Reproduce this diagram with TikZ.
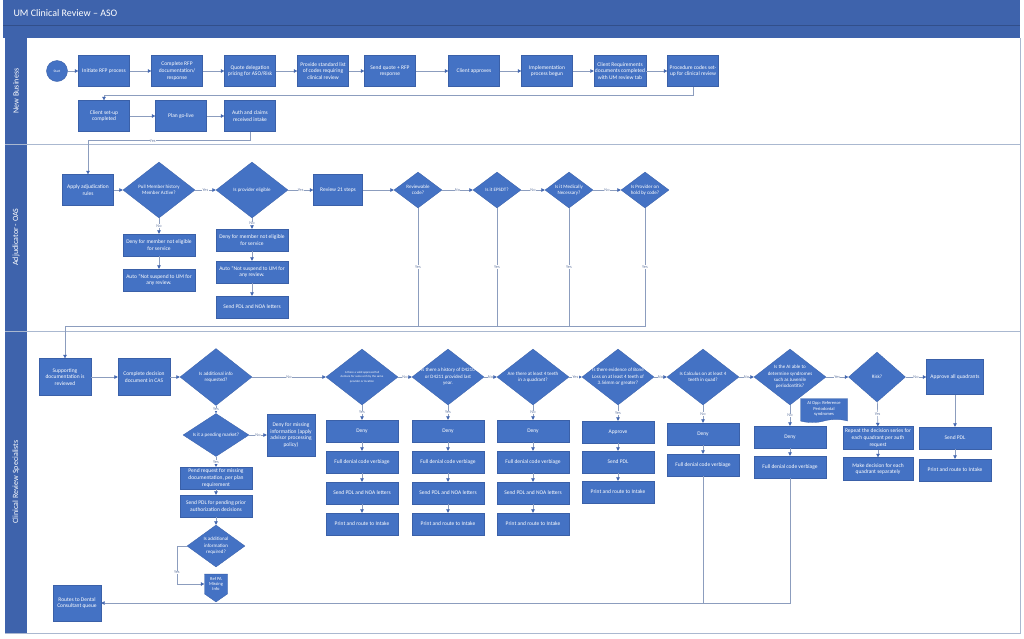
\documentclass[tikz,border=0pt]{standalone}
\usepackage{fontspec}
\setmainfont{Carlito}
\usetikzlibrary{shapes.geometric,shapes.symbols,arrows.meta}
\definecolor{hdrblue}{RGB}{62,99,172}
\definecolor{boxblue}{RGB}{68,114,196}
\definecolor{boxedge}{RGB}{58,96,168}
\definecolor{linegray}{RGB}{140,157,190}
\definecolor{tipblue}{RGB}{68,104,176}
\definecolor{lanegray}{RGB}{170,184,208}
\definecolor{lbltext}{RGB}{105,125,165}
\begin{document}
\begin{tikzpicture}[x=1pt,y=-1pt,
  box/.style={draw=boxedge,line width=.3pt,fill=boxblue,text=white,align=center,font=\fontsize{5.5}{6.6}\selectfont,inner sep=1pt,minimum width=51pt,minimum height=31pt},
  wide/.style={box,minimum width=72pt,minimum height=22pt},
  ask/.style={diamond,draw=boxedge,line width=.3pt,fill=boxblue,text=white,align=center,font=\fontsize{5}{6.4}\selectfont,inner xsep=-8pt,inner ysep=-4pt,minimum width=72pt,minimum height=56pt},
  small ask/.style={ask,minimum width=48pt,minimum height=36pt},
  conn/.style={draw=linegray,line width=.6pt,-{Triangle[length=3.5pt,width=3.5pt,color=tipblue]}},
  wire/.style={draw=linegray,line width=.6pt},
  lbl/.style={fill=white,text=lbltext,inner sep=.4pt,font=\fontsize{4.3}{4.3}\selectfont},
  lane/.style={draw=lanegray,line width=1pt},
  lanename/.style={rotate=90,text=white,font=\fontsize{8}{8}\selectfont}]
  \useasboundingbox (0,0) rectangle (1024,638);
  \fill[hdrblue] (3,0) rectangle (1020,38);
  \draw[hdrblue!80!black,line width=.4pt] (3,25) -- (1020,25);
  \fill[hdrblue] (5,38) rectangle (27,633);
  \draw[lane] (5,144) -- (1020,144);
  \draw[lane] (5,331) -- (1020,331);
  \draw[lane] (5,633) -- (1020,633) -- (1020,38);
  \node[anchor=west,text=white,font=\fontsize{10}{10}\selectfont] (title) at (10,13) {UM Clinical Review – ASO};
  \node[lanename] (nblane) at (16,91) {New Business};
  \node[lanename] (oaslane) at (16,237) {Adjudicator - OAS};
  \node[lanename] (crslane) at (16,482) {Clinical Review Specialists};

  \node[circle,draw=boxedge,fill=boxblue,text=white,minimum size=21pt,inner sep=0pt,font=\fontsize{3.5}{3.5}\selectfont] (start) at (57,71) {Start};
  \node[box] (rfp) at (104,71) {Initiate RFP process};
  \node[box] (rfpdoc) at (177,71) {Complete RFP\\documentation/\\response};
  \node[box] (quote) at (250,71) {Quote delegation\\pricing for ASO/Risk};
  \node[box] (codes) at (323,71) {Provide standard list\\of codes requiring\\clinical review};
  \node[box] (sendquote) at (390,71) {Send quote + RFP\\response};
  \node[box] (approves) at (474,71) {Client approves};
  \node[box] (impl) at (547,71) {Implementation\\process begun};
  \node[box] (reqs) at (620,71) {Client Requirements\\documents completed\\with UM review tab};
  \node[box] (proccodes) at (693,71) {Procedure codes set-\\up for clinical review};
  \node[box] (setup) at (104,116) {Client set-up\\completed};
  \node[box] (golive) at (181,116) {Plan go-live};
  \node[box] (intake) at (250,116) {Auth and claims\\received intake};

  \draw[conn] (start) -- (rfp);
  \draw[conn] (rfp) -- (rfpdoc);
  \draw[conn] (rfpdoc) -- (quote);
  \draw[conn] (quote) -- (codes);
  \draw[conn] (codes) -- (sendquote);
  \draw[conn] (sendquote) -- (approves);
  \draw[conn] (approves) -- (impl);
  \draw[conn] (impl) -- (reqs);
  \draw[conn] (reqs) -- (proccodes);
  \draw[conn] (proccodes.south) -- ++(0,9) -| (setup.north);
  \draw[conn] (setup) -- (golive);
  \draw[conn] (golive) -- (intake);

  \node[box] (adjrules) at (88,190) {Apply adjudication\\rules};
  \node[ask] (active) at (159,190) {Pull Member history\\Member Active?};
  \node[ask] (eligible) at (252,190) {Is provider eligible};
  \node[box,minimum width=49pt] (steps) at (338,190) {Review 21 steps};
  \node[small ask] (reviewable) at (418,190) {Reviewable\\code?};
  \node[small ask] (epsdt) at (497,190) {Is it EPSDT?};
  \node[small ask] (necessary) at (569,190) {Is it Medically\\Necessary?};
  \node[small ask] (onhold) at (645,190) {Is Provider on\\hold by code?};
  \node[wide] (denymem) at (159,245) {Deny for member not eligible\\for service};
  \node[wide] (automem) at (159,280) {Auto “Not suspend to UM for\\any review.};
  \node[wide] (denyprov) at (252,240) {Deny for member not eligible\\for service};
  \node[wide] (autoprov) at (252,272) {Auto “Not suspend to UM for\\any review.};
  \node[wide] (letters) at (252,307) {Send PDL and NOA letters};

  \draw[conn] (intake.south) -- ++(0,9) -| node[lbl,pos=.3] {Yes} (adjrules.north);
  \draw[conn] (adjrules) -- (active);
  \draw[conn] (active) -- node[lbl] {Yes} (eligible);
  \draw[conn] (eligible) -- node[lbl] {Yes} (steps);
  \draw[conn] (steps) -- (reviewable);
  \draw[conn] (reviewable) -- node[lbl] {No} (epsdt);
  \draw[conn] (epsdt) -- node[lbl] {No} (necessary);
  \draw[conn] (necessary) -- node[lbl] {No} (onhold);
  \draw[conn] (active) -- node[lbl] {No} (denymem);
  \draw[conn] (denymem) -- (automem);
  \draw[conn] (eligible) -- node[lbl] {No} (denyprov);
  \draw[conn] (denyprov) -- (autoprov);
  \draw[conn] (autoprov) -- (letters);

  \node[box,minimum width=52pt,minimum height=37pt] (support) at (65,377) {Supporting\\documentation is\\reviewed};
  \node[box,minimum width=52pt,minimum height=37pt] (casdoc) at (144,377) {Complete decision\\document in CAS};
  \node[ask,minimum height=57pt] (addinfo) at (216,377) {Is additional info\\requested?};
  \node[ask,minimum width=66pt,minimum height=43pt] (pendmkt) at (216,435) {Is it a pending market?};
  \node[box,minimum width=48pt,minimum height=42pt] (denymiss) at (291,435) {Deny for missing\\information (apply\\advisor processing\\policy)};
  \node[wide] (pendreq) at (216,478) {Pend request for missing\\documentation, per plan\\requirement};
  \node[wide] (pdlpend) at (216,506) {Send PDL for pending prior\\authorization decisions};
  \node[ask,minimum width=58pt,minimum height=42pt] (addreq) at (216,546) {Is additional\\information\\required?};
  \node[signal,signal to=south,signal from=nowhere,signal pointer angle=110,draw=boxedge,line width=.3pt,fill=boxblue,text=white,align=center,font=\fontsize{4.5}{5.4}\selectfont,inner sep=.5pt,minimum width=23pt,minimum height=25pt] (refpa) at (216,584) {Ref PA\\Missing\\Info};
  \node[box,minimum width=48pt,minimum height=36pt] (dental) at (77,603) {Routes to Dental\\Consultant queue};

  \node[ask,font=\fontsize{3}{4.2}\selectfont] (denture) at (362,377) {Is there a valid approved full\\denture for same arch by the same\\provider or location};
  \node[ask] (history) at (448,377) {Is there a history of D4210\\or D4211 provided last\\year.};
  \node[ask] (fourteeth) at (533,377) {Are there at least 4 teeth\\in a quadrant?};
  \node[ask] (boneloss) at (618,377) {Is there evidence of Bone\\Loss on at least 4 teeth of\\3.56mm or greater?};
  \node[ask] (calculus) at (703,377) {Is Calculus on at least 4\\teeth in quad?};
  \node[ask] (syndromes) at (790,377) {Is the AI able to\\determine syndromes\\such as Juvenile\\periodontitis?};
  \node[ask,minimum width=57pt,minimum height=50pt] (risk) at (877,377) {Risk?};
  \node[box,minimum width=57pt,minimum height=35pt] (allquad) at (955,377) {Approve all quadrants};
  \node[tape,tape bend top=none,tape bend height=3pt,draw=boxedge,line width=.3pt,fill=boxblue,text=white,align=center,font=\fontsize{4.5}{5.4}\selectfont,inner sep=.5pt,minimum width=47pt,minimum height=24pt] (aiopp) at (824,409) {AI Opp: Reference\\Periodontal\\syndromes};

  \foreach \col/\x/\ans in {denture/362/Yes,history/448/Yes,fourteeth/533/No}{
    \node[wide] (\col-deny) at (\x,431) {Deny};
    \node[wide] (\col-full) at (\x,462) {Full denial code verbiage};
    \node[wide] (\col-noa) at (\x,493) {Send PDL and NOA letters};
    \node[wide] (\col-print) at (\x,524) {Print and route to Intake};
    \draw[conn] (\col) -- node[lbl] {\ans} (\col-deny);
    \draw[conn] (\col-deny) -- (\col-full);
    \draw[conn] (\col-full) -- (\col-noa);
    \draw[conn] (\col-noa) -- (\col-print);
  }
  \node[wide] (boneloss-ok) at (618,432) {Approve};
  \node[wide] (boneloss-pdl) at (618,462) {Send PDL};
  \node[wide] (boneloss-print) at (618,492) {Print and route to Intake};
  \node[wide] (calculus-deny) at (703,434) {Deny};
  \node[wide] (calculus-full) at (703,465) {Full denial code verbiage};
  \node[wide] (syndromes-deny) at (790,437) {Deny};
  \node[wide] (syndromes-full) at (790,467) {Full denial code verbiage};
  \node[wide,minimum width=70pt,minimum height=23pt] (repeat) at (878,438) {Repeat the decision series for\\each quadrant per auth\\request};
  \node[wide,minimum width=70pt,minimum height=23pt] (separate) at (878,469) {Make decision for each\\quadrant separately};
  \node[wide] (allquad-pdl) at (955,438) {Send PDL};
  \node[wide] (allquad-print) at (955,470) {Print and route to Intake};

  \coordinate (yesjoin) at (65,326);
  \foreach \q in {reviewable,epsdt,necessary}
    \draw[wire] (\q) -- node[lbl] {Yes} (\q.south |- yesjoin);
  \draw[wire] (onhold) -- node[lbl] {Yes} (onhold.south |- yesjoin) -- (yesjoin);
  \draw[conn] (yesjoin) -- (support);

  \draw[conn] (support) -- (casdoc);
  \draw[conn] (casdoc) -- (addinfo);
  \draw[conn] (addinfo) -- node[lbl] {No} (denture);
  \draw[conn] (addinfo) -- node[lbl] {Yes} (pendmkt);
  \draw[conn] (pendmkt) -- node[lbl] {No} (denymiss);
  \draw[conn] (pendmkt) -- node[lbl] {Yes} (pendreq);
  \draw[conn] (pendreq) -- (pdlpend);
  \draw[conn] (pdlpend) -- (addreq);
  \draw[conn] (addreq.west) -- ++(-10,0) |- node[lbl,pos=.35] {Yes} (refpa.west);

  \draw[conn] (denture) -- node[lbl] {No} (history);
  \draw[conn] (history) -- node[lbl] {No} (fourteeth);
  \draw[conn] (fourteeth) -- node[lbl] {Yes} (boneloss);
  \draw[conn] (boneloss) -- node[lbl] {No} (calculus);
  \draw[conn] (calculus) -- node[lbl] {No} (syndromes);
  \draw[conn] (syndromes) -- node[lbl] {Yes} (risk);
  \draw[conn] (risk) -- node[lbl] {No} (allquad);

  \draw[conn] (boneloss) -- node[lbl] {Yes} (boneloss-ok);
  \draw[conn] (boneloss-ok) -- (boneloss-pdl);
  \draw[conn] (boneloss-pdl) -- (boneloss-print);
  \draw[conn] (calculus) -- node[lbl] {No} (calculus-deny);
  \draw[conn] (calculus-deny) -- (calculus-full);
  \draw[conn] (syndromes) -- node[lbl] {No} (syndromes-deny);
  \draw[conn] (syndromes-deny) -- (syndromes-full);
  \draw[conn] (risk) -- node[lbl] {Yes} (repeat);
  \draw[conn] (repeat) -- (separate);
  \draw[conn] (allquad) -- (allquad-pdl);
  \draw[conn] (allquad-pdl) -- (allquad-print);
  \draw[conn] (calculus-full.south) |- (dental.east);
  \draw[wire] (syndromes-full.south) |- (calculus-full.south |- dental.east);
\end{tikzpicture}
\end{document}
